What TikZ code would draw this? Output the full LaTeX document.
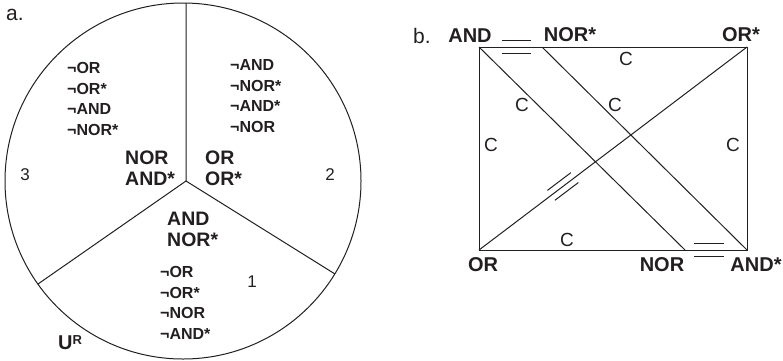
\documentclass[tikz,border=0pt]{standalone}
\usepackage{fontspec}
\setmainfont{Liberation Sans}
\usetikzlibrary{calc}
\definecolor{lgInk}{HTML}{231F20}
\tikzset{
  lg line/.style={draw=lgInk, line width=1pt},
  lg big/.style={font=\fontsize{19.5}{21}\selectfont\bfseries, text=lgInk, align=left, inner sep=0pt, anchor=west},
  lg small/.style={font=\fontsize{16}{20.5}\selectfont\bfseries, text=lgInk, align=left, inner sep=0pt, anchor=west},
  lg num/.style={font=\fontsize{17}{17}\selectfont, text=lgInk, inner sep=0pt},
  lg tag/.style={font=\fontsize{20}{20}\selectfont\bfseries, text=lgInk, inner sep=0pt},
  lg c/.style={font=\fontsize{19}{19}\selectfont, text=lgInk, inner sep=0pt},
  lg panel/.style={font=\fontsize{21}{21}\selectfont, text=lgInk, inner sep=0pt, anchor=base west},
  lg eq/.style={minimum width=29pt, minimum height=12pt, inner sep=0pt, sloped},
}

\begin{document}
\begin{tikzpicture}[x=1pt,y=-1pt]
  \useasboundingbox (0,0) rectangle (783,360);
  % a. three regions of the circle
  \node[lg panel] (pa) at (6,20) {a.};
  \draw[lg line] (183,181) circle[radius=178];
  \coordinate (hub) at (186,181);
  \coordinate (sp2) at (186,3);
  \coordinate (sp3) at (38,284);
  \coordinate (sp1) at (335,274);
  \draw[lg line] (hub) -- (sp2) (hub) -- (sp3) (hub) -- (sp1);
  \node[lg small] (l3) at (67,99) {¬OR\\¬OR*\\¬AND\\¬NOR*};
  \node[lg small] (l2) at (230,96) {¬AND\\¬NOR*\\¬AND*\\¬NOR};
  \node[lg small] (l1) at (160,303) {¬OR\\¬OR*\\¬NOR\\¬AND*};
  \node[lg big] (c3) at (125,168) {NOR\\AND*};
  \node[lg big] (c2) at (205,168) {OR\\OR*};
  \node[lg big] (c1) at (167,229) {AND\\NOR*};
  \node[lg num] (n3) at (25,175) {3};
  \node[lg num] (n2) at (330,175) {2};
  \node[lg num] (n1) at (252,282) {1};
  \node[lg tag] (ur) at (70,343) {U\raisebox{5pt}{\fontsize{13}{13}\selectfont\bfseries R}};
  % b. square of opposition
  \node[lg panel] (pb) at (413,43) {b.};
  \coordinate (TL) at (479,47);
  \coordinate (TR) at (747,47);
  \coordinate (BL) at (479,250);
  \coordinate (BR) at (747,250);
  \coordinate (Tm) at (542,47);
  \coordinate (Bm) at (685,250);
  \draw[lg line] (TL) -- (TR) -- (BR) -- (BL) -- cycle;
  \draw[lg line] (TL) -- (Bm) (Tm) -- (BR) (BL) -- (TR);
  \path (TL) -- (Tm) node[lg eq, pos=0.595] (eqt) {};
  \path (Bm) -- (BR) node[lg eq, pos=0.387] (eqb) {};
  \path (BL) -- (TR) node[lg eq, pos=0.313] (eqd) {};
  \foreach \e in {eqt,eqb,eqd}
    \draw[lg line] (\e.north west) -- (\e.north east) (\e.south west) -- (\e.south east);
  \node[lg tag] (tand) at (470,36) {AND};
  \node[lg tag] (tnors) at (570,35) {NOR*};
  \node[lg tag] (tors) at (741,35) {OR*};
  \node[lg tag] (bor) at (483,265) {OR};
  \node[lg tag] (bnor) at (662,265) {NOR};
  \node[lg tag] (bands) at (756,265) {AND*};
  \foreach \p [count=\i] in {(626,59),(522,105),(615,105),(491,145),(733,145),(567,240)}
    \node[lg c] (c\i) at \p {C};
\end{tikzpicture}
\end{document}
